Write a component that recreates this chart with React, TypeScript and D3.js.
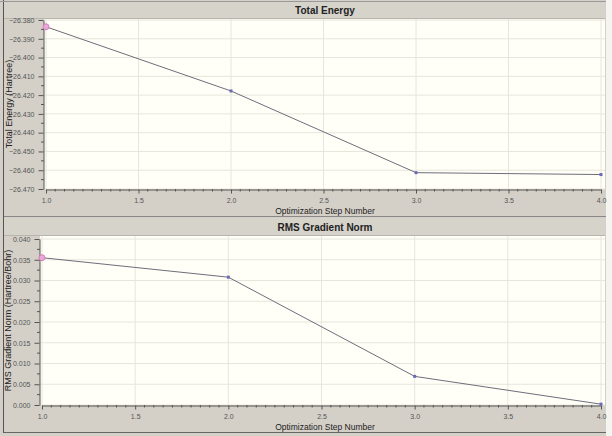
import * as d3 from "d3";
import React, { useEffect, useRef } from "react";

// Optimization steps and the values.
const steps = [1, 2, 3, 4];
const totalEnergy = [-26.3836, -26.4178, -26.4613, -26.4623];
const rmsGradient = [0.0355, 0.0308, 0.0069, 0.0002];

const xTicks = [1.0, 1.5, 2.0, 2.5, 3.0, 3.5, 4.0];
const energyTicks = [-26.38, -26.39, -26.4, -26.41, -26.42, -26.43, -26.44, -26.45, -26.46, -26.47];
const gradientTicks = [0.04, 0.035, 0.03, 0.025, 0.02, 0.015, 0.01, 0.005, 0.0];

const W = 612;
const H = 436;
const FONT = "Arial, 'Liberation Sans', sans-serif";

function drawPanel(svg, opts) {
  const { top, titleH, plotL, plotR, plotT, plotB, xRange, yDomain, yRange, yTicks, values, title, yLabel, yLabelX } = opts;
  const g = svg.append("g");

  // title bar
  g.append("rect").attr("x", 4).attr("y", top).attr("width", plotR - 4).attr("height", titleH).attr("fill", "#d6d3cb");
  g.append("line").attr("x1", 4).attr("x2", plotR).attr("y1", top + titleH - 0.5).attr("y2", top + titleH - 0.5).attr("stroke", "#b8b5ad");
  g.append("text")
    .attr("x", 325)
    .attr("y", top + titleH / 2 + 3.5)
    .attr("text-anchor", "middle")
    .attr("font-family", FONT)
    .attr("font-weight", "bold")
    .attr("font-size", 10)
    .attr("fill", "#222")
    .text(title);

  // plot background
  g.append("rect").attr("x", plotL).attr("y", plotT).attr("width", plotR - plotL).attr("height", plotB - plotT).attr("fill", "#fffff7");

  const x = d3.scaleLinear([1, 4], xRange);
  const y = d3.scaleLinear(yDomain, yRange);

  // grid
  g.append("g")
    .selectAll("line")
    .data(xTicks)
    .join("line")
    .attr("x1", (d) => x(d))
    .attr("x2", (d) => x(d))
    .attr("y1", plotT)
    .attr("y2", plotB)
    .attr("stroke", "#e6e6dc");
  g.append("g")
    .selectAll("line")
    .data(yTicks)
    .join("line")
    .attr("x1", plotL)
    .attr("x2", plotR)
    .attr("y1", (d) => y(d))
    .attr("y2", (d) => y(d))
    .attr("stroke", "#e6e6dc");

  // y axis
  const yAxis = d3
    .axisLeft(y)
    .tickValues(yTicks)
    .tickFormat(d3.format(".3f"))
    .tickSize(5)
    .tickSizeOuter(0);
  const ya = g
    .append("g")
    .attr("transform", `translate(${plotL - 0.5},0)`)
    .call(yAxis)
    .style("font-family", FONT)
    .style("font-size", "7px");
  ya.select(".domain").attr("stroke", "#555");
  ya.selectAll(".tick line").attr("stroke", "#555");
  ya.selectAll(".tick text").attr("fill", "#555").attr("dx", -1);
  // minor y ticks
  const step = yTicks[0] - yTicks[1];
  const minorY = yTicks.slice(1).map((d) => d + step / 2);
  g.append("g")
    .selectAll("line")
    .data(minorY)
    .join("line")
    .attr("x1", plotL - 3)
    .attr("x2", plotL)
    .attr("y1", (d) => y(d))
    .attr("y2", (d) => y(d))
    .attr("stroke", "#555");

  // x axis
  const xAxis = d3.axisBottom(x).tickValues(xTicks).tickFormat(d3.format(".1f")).tickSize(4).tickSizeOuter(0);
  const xa = g
    .append("g")
    .attr("transform", `translate(0,${plotB + 0.5})`)
    .call(xAxis)
    .style("font-family", FONT)
    .style("font-size", "7px");
  xa.select(".domain").attr("stroke", "#555");
  xa.selectAll(".tick line").attr("stroke", "#555");
  xa.selectAll(".tick text").attr("fill", "#555").attr("dy", "0.9em");
  const minorX = d3.range(1, 4.001, 0.05).filter((d) => Math.abs(d * 2 - Math.round(d * 2)) > 0.01);
  g.append("g")
    .selectAll("line")
    .data(minorX)
    .join("line")
    .attr("x1", (d) => x(d))
    .attr("x2", (d) => x(d))
    .attr("y1", plotB)
    .attr("y2", plotB + 2.5)
    .attr("stroke", "#555");

  g.append("text")
    .attr("x", 325)
    .attr("y", plotB + 25)
    .attr("text-anchor", "middle")
    .attr("font-family", FONT)
    .attr("font-size", 8.5)
    .attr("fill", "#222")
    .text("Optimization Step Number");

  g.append("text")
    .attr("transform", `translate(${yLabelX},${(plotT + plotB) / 2}) rotate(-90)`)
    .attr("text-anchor", "middle")
    .attr("font-family", FONT)
    .attr("font-size", 9)
    .attr("fill", "#222")
    .text(yLabel);

  // series
  const line = d3
    .line()
    .x((d, i) => x(steps[i]))
    .y((d) => y(d));
  g.append("path").attr("d", line(values)).attr("fill", "none").attr("stroke", "#6e6e7c").attr("stroke-width", 1);
  g.append("g")
    .selectAll("rect")
    .data(values)
    .join("rect")
    .attr("x", (d, i) => x(steps[i]) - 1.5)
    .attr("y", (d) => y(d) - 1.5)
    .attr("width", 3)
    .attr("height", 3)
    .attr("fill", "#6a6ab8");
  // highlighted first point
  g.append("circle")
    .attr("cx", x(steps[0]))
    .attr("cy", y(values[0]))
    .attr("r", 3)
    .attr("fill", "#e8a8d8")
    .attr("stroke", "#d070b8")
    .attr("stroke-width", 0.8);
}

export default function App() {
  const ref = useRef(null);

  useEffect(() => {
    const svg = d3.select(ref.current);
    svg.selectAll("*").remove();

    svg.append("rect").attr("width", W).attr("height", H).attr("fill", "#d4d0c8");
    svg.append("rect").attr("x", 606).attr("y", 0).attr("width", 6).attr("height", H).attr("fill", "#f4f4f0");
    svg.append("line").attr("x1", 3.5).attr("x2", 3.5).attr("y1", 0).attr("y2", 433).attr("stroke", "#555");
    svg.append("line").attr("x1", 0).attr("x2", 606).attr("y1", 1.5).attr("y2", 1.5).attr("stroke", "#999");

    drawPanel(svg, {
      top: 2,
      titleH: 17,
      plotL: 44,
      plotR: 605,
      plotT: 19,
      plotB: 189,
      xRange: [46, 601],
      yDomain: [-26.47, -26.38],
      yRange: [189, 20],
      yTicks: energyTicks,
      values: totalEnergy,
      title: "Total Energy",
      yLabel: "Total Energy (Hartree)",
      yLabelX: 11.5,
    });

    // separator between the panels
    svg.append("line").attr("x1", 4).attr("x2", 606).attr("y1", 216.5).attr("y2", 216.5).attr("stroke", "#888");

    drawPanel(svg, {
      top: 218,
      titleH: 18,
      plotL: 40,
      plotR: 605,
      plotT: 236,
      plotB: 405,
      xRange: [42, 601],
      yDomain: [0, 0.04],
      yRange: [405, 239],
      yTicks: gradientTicks,
      values: rmsGradient,
      title: "RMS Gradient Norm",
      yLabel: "RMS Gradient Norm (Hartree/Bohr)",
      yLabelX: 11,
    });

    svg.append("line").attr("x1", 4).attr("x2", 606).attr("y1", 432.5).attr("y2", 432.5).attr("stroke", "#666");
  }, []);

  return (
    <svg
      ref={ref}
      width={W}
      height={H}
      style={{ position: "absolute", left: 0, top: 0, display: "block" }}
    />
  );
}
